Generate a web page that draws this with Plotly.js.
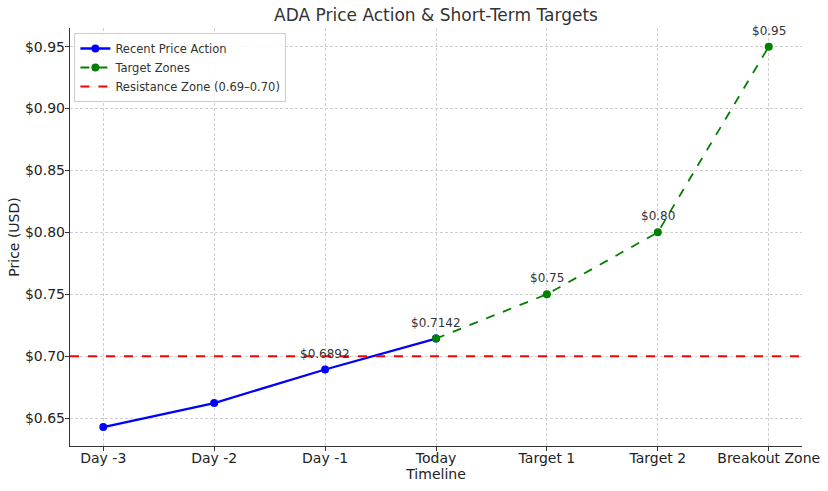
<!DOCTYPE html>
<html><head><meta charset="utf-8">
<script src="https://cdn.plot.ly/plotly-3.0.1.min.js"></script>
<style>html,body{margin:0;padding:0;background:#fff}</style>
</head><body><div id="chart" style="width:828px;height:491px"></div>
<script>
const categories = ["Day -3","Day -2","Day -1","Today","Target 1","Target 2","Breakout Zone"];
const recentLabels = ["Day -3","Day -2","Day -1","Today"];
const recentPrices = [0.6427, 0.6621, 0.6892, 0.7142];
const targetLabels = ["Today","Target 1","Target 2","Breakout Zone"];
const targetPrices = [0.7142, 0.75, 0.80, 0.95];
const resistance = 0.70;
const annotLabels = ["Day -1","Today","Target 1","Target 2","Breakout Zone"];
const annotPrices = [0.6892, 0.7142, 0.75, 0.80, 0.95];
const annotTexts = ["$0.6892","$0.7142","$0.75","$0.80","$0.95"];
const yTicks = [0.65,0.70,0.75,0.80,0.85,0.90,0.95];
const yTickText = ["$0.65","$0.70","$0.75","$0.80","$0.85","$0.90","$0.95"];

const idx = c => categories.indexOf(c);
const xRange = [-0.3, categories.length - 1 + 0.3];
const font = "DejaVu Sans, sans-serif";

const traces = [
  {x: recentLabels.map(idx), y: recentPrices, mode: "lines+markers", name: "Recent Price Action",
   line: {color: "#0000ff", width: 2.3}, marker: {color: "#0000ff", size: 8}},
  {x: targetLabels.map(idx), y: targetPrices, mode: "lines+markers", name: "Target Zones",
   line: {color: "#008000", width: 1.8, dash: "dash"}, marker: {color: "#008000", size: 8}},
  {x: xRange, y: [resistance, resistance], mode: "lines", name: "Resistance Zone (0.69–0.70)",
   line: {color: "#ff0000", width: 2, dash: "dash"}, hoverinfo: "skip"}
];

const annotations = annotLabels.map((c, i) => ({
  x: idx(c), y: annotPrices[i], text: annotTexts[i], showarrow: false,
  xanchor: "center", yanchor: "bottom", yshift: 7,
  font: {family: font, size: 12, color: "#333"}
}));

const grid = {gridcolor: "#d0d0d0", griddash: "3px,2px", gridwidth: 1};
const layout = {
  width: 828, height: 491,
  margin: {l: 70, r: 26, t: 28, b: 45},
  paper_bgcolor: "#fff", plot_bgcolor: "#fff",
  font: {family: font, color: "#333"},
  title: {text: "ADA Price Action & Short-Term Targets", font: {size: 17, color: "#333", family: font},
          x: 0.5, xanchor: "center", y: 0.969, yanchor: "middle", xref: "paper"},
  xaxis: Object.assign({
    range: xRange, tickvals: categories.map(idx), ticktext: categories,
    ticks: "outside", ticklen: 4, tickcolor: "#333", showline: true, linecolor: "#333", linewidth: 1.2,
    zeroline: false, tickfont: {size: 14, family: font, color: "#222"}, ticklabelstandoff: -5,
    title: {text: "Timeline", font: {size: 14, family: font, color: "#222"}, standoff: 2}
  }, grid),
  yaxis: Object.assign({
    range: [0.6274, 0.9651], tickvals: yTicks, ticktext: yTickText,
    ticks: "outside", ticklen: 4, tickcolor: "#333", showline: true, linecolor: "#333", linewidth: 1.2,
    zeroline: false, tickfont: {size: 14, family: font, color: "#222"}, ticklabelstandoff: -3,
    title: {text: "Price (USD)", font: {size: 14, family: font, color: "#222"}, standoff: 2}
  }, grid),
  legend: {x: 0.006, y: 0.988, xanchor: "left", yanchor: "top", bgcolor: "rgba(255,255,255,0.85)",
           bordercolor: "#cccccc", borderwidth: 1, font: {size: 11.5, family: font, color: "#333"},
           itemwidth: 30, tracegroupgap: 0},
  annotations: annotations,
  showlegend: true
};
Plotly.newPlot("chart", traces, layout, {displayModeBar: false, staticPlot: true});
</script></body></html>
